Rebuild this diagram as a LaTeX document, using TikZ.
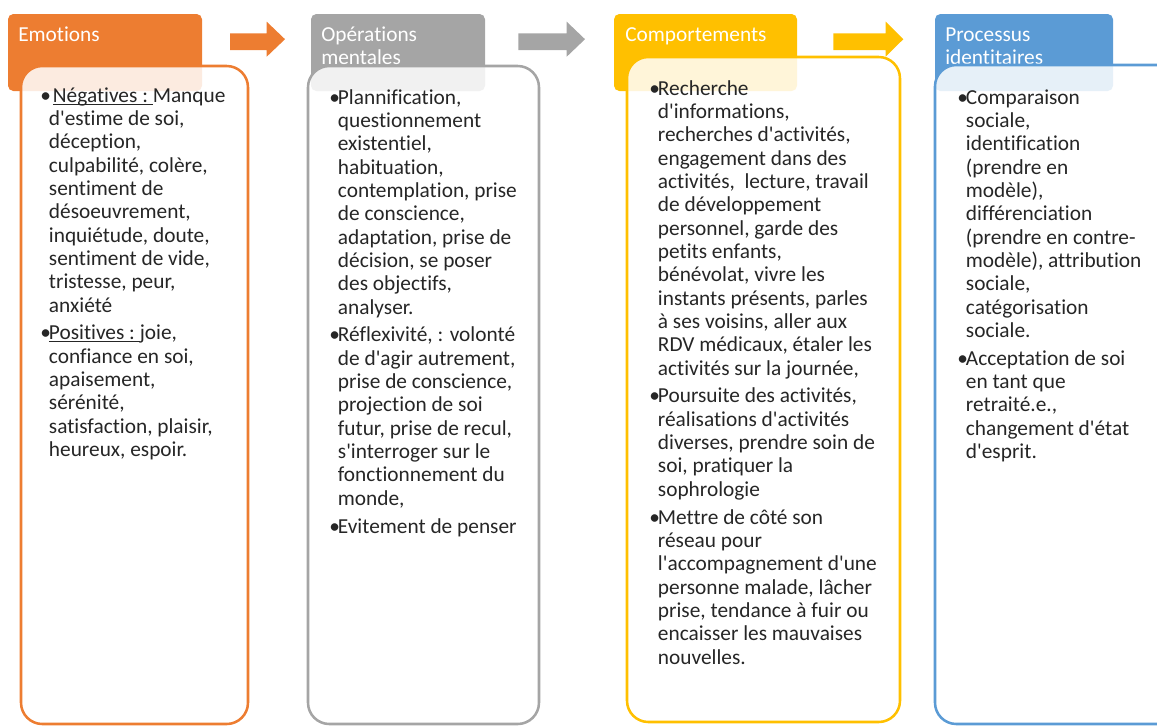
\documentclass[tikz,border=0pt]{standalone}
\usepackage{fontspec}
\setmainfont{Carlito}[Ligatures={TeXOff,NoCommon}]
\usepackage{xcolor}
\usepackage{tikz}
\usetikzlibrary{calc}
\definecolor{emoOrange}{HTML}{ED7D31}
\definecolor{opGray}{HTML}{A5A5A5}
\definecolor{compYellow}{HTML}{FFC000}
\definecolor{procBlue}{HTML}{5B9BD5}
\definecolor{txtDark}{HTML}{262626}
\newcommand{\puce}{\makebox[6.5pt][l]{\textbullet}}
\newcommand{\souligne}[1]{\underline{\smash{#1}}}

\begin{document}
\begin{tikzpicture}[x=0.75pt,y=-0.75pt,
  header/.style={fill=#1,rounded corners=4pt},
  panel/.style={draw=#1,line width=1.9pt,fill=white,fill opacity=0.85,rounded corners=16pt},
  headtext/.style={anchor=base west,inner sep=0pt,text=white,font=\fontsize{16}{17.5}\selectfont},
  bodytext/.style={anchor=base west,inner sep=0pt,text=txtDark,font=\fontsize{16}{17.5}\selectfont}]
\useasboundingbox (0,0) rectangle (1157,726);
\clip (0,0) rectangle (1157,726);

% en-tetes
\fill[header=emoOrange] (8,14) rectangle (202,91);
\fill[header=opGray] (311,14) rectangle (485,91);
\fill[header=compYellow] (614,14) rectangle (797,91);
\fill[header=procBlue] (935,14) rectangle (1113,91);

\node[headtext] (emoTitle) at (18,41.5) {Emotions};
\node[headtext] (opTitle) at (321,41.5) {\begin{tabular}[t]{@{}l@{}}Opérations\\mentales\end{tabular}};
\node[headtext] (compTitle) at (625,41.5) {Comportements};
\node[headtext] (procTitle) at (945,41.5) {\begin{tabular}[t]{@{}l@{}}Processus\\identitaires\end{tabular}};

% fleches
\fill[emoOrange] (230,33.3) -- (266.7,33.3) -- (266.7,21.7) -- (285,39.2) -- (266.7,56.7) -- (266.7,50) -- (230,50) -- cycle;
\fill[opGray] (518.3,33.3) -- (566.7,33.3) -- (566.7,21.7) -- (585,39.2) -- (566.7,56.7) -- (566.7,50) -- (518.3,50) -- cycle;
\fill[compYellow] (833.3,33.3) -- (885.7,33.3) -- (885.7,21.7) -- (903.3,39.2) -- (885.7,56.7) -- (885.7,50) -- (833.3,50) -- cycle;

% panneaux
\path[panel=emoOrange] (21,66) rectangle (248,724);
\path[panel=opGray] (308,66) rectangle (539,724);
\path[panel=compYellow] (627,57) rectangle (900,722);
\path[panel=procBlue] (935,65) rectangle (1180,724);

\node[bodytext] (emoText) at (40,102) {\begin{tabular}[t]{@{}l@{}l@{}}
\puce & \hspace{3pt}\souligne{Négatives :\ }Manque\\
& d'estime de soi,\\
& déception,\\
& culpabilité, colère,\\
& sentiment de\\
& désoeuvrement,\\
& inquiétude, doute,\\
& sentiment de vide,\\
& tristesse, peur,\\
& anxiété\\[3.4pt]
\puce & \souligne{Positives :\ }joie,\\
& confiance en soi,\\
& apaisement,\\
& sérénité,\\
& satisfaction, plaisir,\\
& heureux, espoir.
\end{tabular}};

\node[bodytext] (opText) at (329,104) {\begin{tabular}[t]{@{}l@{}l@{}}
\puce & Plannification,\\
& questionnement\\
& existentiel,\\
& habituation,\\
& contemplation, prise\\
& de conscience,\\
& adaptation, prise de\\
& décision, se poser\\
& des objectifs,\\
& analyser.\\[3.4pt]
\puce & Réflexivité, : volonté\\
& de d'agir autrement,\\
& prise de conscience,\\
& projection de soi\\
& futur, prise de recul,\\
& s'interroger sur le\\
& fonctionnement du\\
& monde,\\[3.4pt]
\puce & Evitement de penser
\end{tabular}};

\node[bodytext] (compText) at (649,95) {\begin{tabular}[t]{@{}l@{}l@{}}
\puce & Recherche\\
& d'informations,\\
& recherches d'activités,\\
& engagement dans des\\
& activités,\ \ lecture, travail\\
& de développement\\
& personnel, garde des\\
& petits enfants,\\
& bénévolat, vivre les\\
& instants présents, parles\\
& à ses voisins, aller aux\\
& RDV médicaux, étaler les\\
& activités sur la journée,\\[3.4pt]
\puce & Poursuite des activités,\\
& réalisations d'activités\\
& diverses, prendre soin de\\
& soi, pratiquer la\\
& sophrologie\\[3.4pt]
\puce & Mettre de côté son\\
& réseau pour\\
& l'accompagnement d'une\\
& personne malade, lâcher\\
& prise, tendance à fuir ou\\
& encaisser les mauvaises\\
& nouvelles.
\end{tabular}};

\node[bodytext] (procText) at (957,104) {\begin{tabular}[t]{@{}l@{}l@{}}
\puce & Comparaison\\
& sociale,\\
& identification\\
& (prendre en\\
& modèle),\\
& différenciation\\
& (prendre en contre-\\
& modèle), attribution\\
& sociale,\\
& catégorisation\\
& sociale.\\[3.4pt]
\puce & Acceptation de soi\\
& en tant que\\
& retraité.e.,\\
& changement d'état\\
& d'esprit.
\end{tabular}};
\end{tikzpicture}
\end{document}
